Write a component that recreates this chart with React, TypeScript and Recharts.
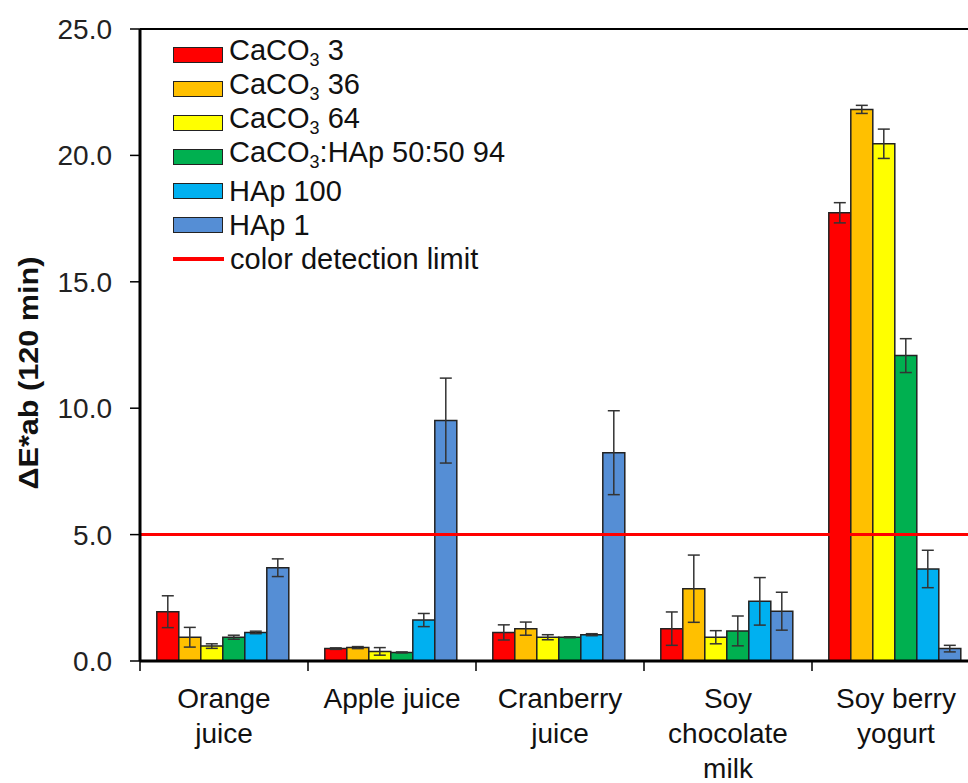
import React from 'react';
import {
  BarChart,
  Bar,
  XAxis,
  YAxis,
  ErrorBar,
  ReferenceLine,
} from 'recharts';

const categories = ['Orange juice', 'Apple juice', 'Cranberry juice', 'Soy chocolate milk', 'Soy berry yogurt'];
const categoryLines = [['Orange', 'juice'], ['Apple juice'], ['Cranberry', 'juice'], ['Soy', 'chocolate', 'milk'], ['Soy berry', 'yogurt']];

const caco3_3 = [1.95, 0.49, 1.13, 1.28, 17.73];
const caco3_3Err = [0.63, 0.03, 0.3, 0.66, 0.4];
const caco3_36 = [0.94, 0.53, 1.28, 2.86, 21.82];
const caco3_36Err = [0.39, 0.04, 0.26, 1.33, 0.16];
const caco3_64 = [0.59, 0.38, 0.94, 0.94, 20.46];
const caco3_64Err = [0.09, 0.15, 0.1, 0.26, 0.58];
const mix94 = [0.94, 0.34, 0.94, 1.19, 12.08];
const mix94Err = [0.08, 0.02, 0.02, 0.59, 0.67];
const hap100 = [1.13, 1.62, 1.04, 2.36, 3.64];
const hap100Err = [0.05, 0.26, 0.04, 0.94, 0.74];
const hap1 = [3.69, 9.51, 8.24, 1.97, 0.49];
const hap1Err = [0.35, 1.68, 1.66, 0.75, 0.13];

const detectionLimit = 5;
const yTicks = [0, 5, 10, 15, 20, 25];

const series = [
  { key: 's0', values: caco3_3, errors: caco3_3Err, color: '#FF0000', label: ['CaCO', '3', ' 3'] },
  { key: 's1', values: caco3_36, errors: caco3_36Err, color: '#FFC000', label: ['CaCO', '3', ' 36'] },
  { key: 's2', values: caco3_64, errors: caco3_64Err, color: '#FFFF00', label: ['CaCO', '3', ' 64'] },
  { key: 's3', values: mix94, errors: mix94Err, color: '#00B050', label: ['CaCO', '3', ':HAp 50:50 94'] },
  { key: 's4', values: hap100, errors: hap100Err, color: '#00B0F0', label: ['HAp 100', '', ''] },
  { key: 's5', values: hap1, errors: hap1Err, color: '#558ED5', label: ['HAp 1', '', ''] },
];

const data = categories.map((name, i) => {
  const row: Record<string, string | number> = { name };
  series.forEach((s) => {
    row[s.key] = s.values[i];
    row[s.key + 'err'] = s.errors[i];
  });
  return row;
});

const FONT = '"Liberation Sans", Arial, sans-serif';
const CHART_W = 990;
const CHART_H = 783;
const Y_AXIS_W = 140;
const MARGIN_RIGHT = 10;
const BAND = (CHART_W - Y_AXIS_W - MARGIN_RIGHT) / categories.length;

const CategoryTick = (props: any) => {
  const { x, y, index } = props;
  const lines = categoryLines[index] || [];
  return (
    <g>
      <line x1={x - BAND / 2} y1={y} x2={x - BAND / 2} y2={y + 10} stroke="#000" strokeWidth={1.5} />
      <text x={x} y={y} textAnchor="middle" fontFamily={FONT} fontSize={28} fill="#111">
        {lines.map((l: string, i: number) => (
          <tspan key={i} x={x} dy={i === 0 ? 47 : 35}>
            {l}
          </tspan>
        ))}
      </text>
    </g>
  );
};

const ChartLegend = () => (
  <div
    style={{
      position: 'absolute',
      left: 173,
      top: 38,
      fontFamily: FONT,
      fontSize: 29,
      color: '#111',
      lineHeight: '34px',
      whiteSpace: 'nowrap',
    }}
  >
    {series.map((s) => (
      <div key={s.key} style={{ display: 'flex', alignItems: 'center', height: 34 }}>
        <span
          style={{
            display: 'inline-block',
            width: 48,
            height: 14,
            background: s.color,
            border: '1.5px solid #222',
            marginRight: 6,
          }}
        />
        <span>
          {s.label[0]}
          {s.label[1] && <sub style={{ fontSize: 18, verticalAlign: -6 }}>{s.label[1]}</sub>}
          {s.label[2]}
        </span>
      </div>
    ))}
    <div style={{ display: 'flex', alignItems: 'center', height: 34 }}>
      <span style={{ display: 'inline-block', width: 51, height: 4, background: '#FF0000', marginRight: 6 }} />
      <span>color detection limit</span>
    </div>
  </div>
);

const YLabel = () => (
  <text
    x={28}
    y={373}
    transform="rotate(-90 28 373)"
    textAnchor="middle"
    dominantBaseline="central"
    fontFamily='"Liberation Sans Narrow", "Liberation Sans", Arial, sans-serif'
    fontWeight="bold"
    fontSize={28}
    fill="#111"
    textLength={233}
    lengthAdjust="spacingAndGlyphs"
  >
    ΔE*ab (120 min)
  </text>
);

export default function App() {
  return (
    <div
      style={{
        position: 'absolute',
        left: 0,
        top: 0,
        width: 968,
        height: 783,
        overflow: 'hidden',
        background: '#fff',
      }}
    >
      <BarChart
        width={CHART_W}
        height={CHART_H}
        data={data}
        margin={{ top: 29, right: MARGIN_RIGHT, left: 0, bottom: 0 }}
        barCategoryGap="10%"
        barGap={0}
      >
        <XAxis
          dataKey="name"
          height={122}
          axisLine={{ stroke: '#000', strokeWidth: 3 }}
          tickLine={false}
          tickSize={0}
          tickMargin={0}
          interval={0}
          tick={<CategoryTick />}
        />
        <YAxis
          width={Y_AXIS_W}
          domain={[0, 25]}
          ticks={yTicks}
          interval={0}
          axisLine={{ stroke: '#000', strokeWidth: 3 }}
          tickLine={{ stroke: '#000', strokeWidth: 1.5 }}
          tickSize={10}
          tickMargin={18}
          tick={{ fontFamily: FONT, fontSize: 28, fill: '#222' }}
          tickFormatter={(v: number) => v.toFixed(1)}
        />
        <ReferenceLine y={25} stroke="#000" strokeWidth={2} />
        {series.map((s) => (
          <Bar key={s.key} dataKey={s.key} fill={s.color} stroke="#222" strokeWidth={1.5} isAnimationActive={false}>
            <ErrorBar dataKey={s.key + 'err'} width={6} stroke="#333" strokeWidth={1.5} direction="y" />
          </Bar>
        ))}
        <ReferenceLine y={detectionLimit} stroke="#FF0000" strokeWidth={3} />
        <YLabel />
      </BarChart>
      <ChartLegend />
    </div>
  );
}
